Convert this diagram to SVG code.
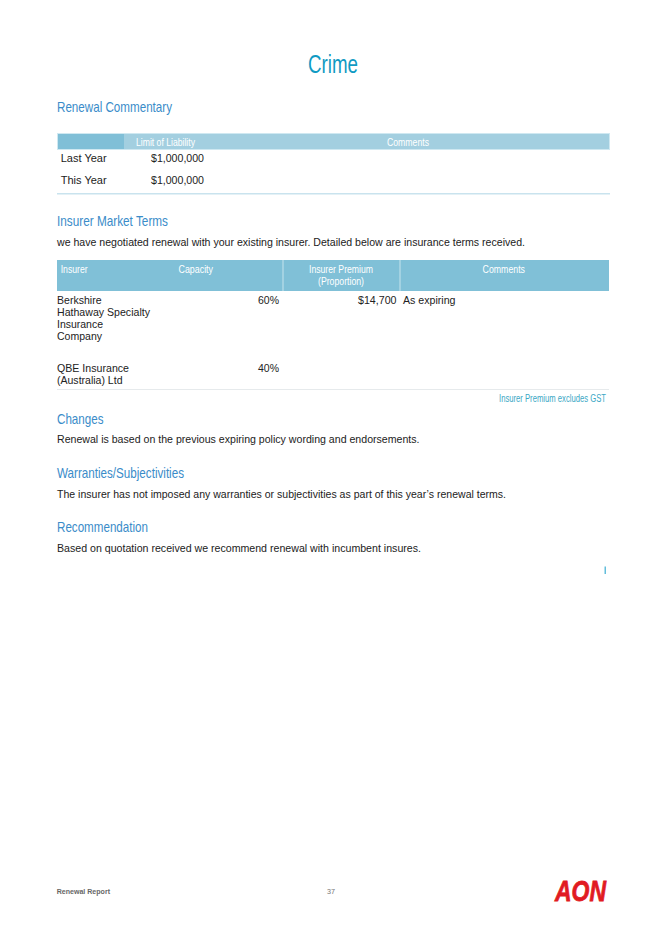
<svg xmlns="http://www.w3.org/2000/svg" width="645" height="934" viewBox="0 0 645 934">
<style>
text{font-family:"Liberation Sans",Arial,sans-serif}
.b{font-size:11.5px;fill:#222}
.h{font-size:14.5px;fill:#3a8cc9}
.w{font-size:11px;fill:#fff}
</style>
<rect width="645" height="934" fill="#fff"/>
<text id="title" x="308" y="73" font-size="25" fill="#109ac3" textLength="50" lengthAdjust="spacingAndGlyphs">Crime</text>
<g id="renewal-commentary">
<text class="h" x="57" y="111.500" textLength="115" lengthAdjust="spacingAndGlyphs">Renewal Commentary</text>
<rect x="57" y="133" width="553" height="17" fill="#cfe8f1"/>
<rect x="58" y="134" width="66" height="15" fill="#80bfd7"/>
<rect x="124" y="134" width="485" height="15" fill="#a3cfe0"/>
<text class="w" x="136" y="146" textLength="59" lengthAdjust="spacingAndGlyphs">Limit of Liability</text>
<text class="w" x="387" y="146" textLength="42" lengthAdjust="spacingAndGlyphs">Comments</text>
<text class="b" x="60.700" y="162.200" textLength="46" lengthAdjust="spacingAndGlyphs">Last Year</text>
<text class="b" x="151" y="162.200" textLength="53" lengthAdjust="spacingAndGlyphs">$1,000,000</text>
<text class="b" x="60.700" y="184.200" textLength="46" lengthAdjust="spacingAndGlyphs">This Year</text>
<text class="b" x="151" y="184.200" textLength="53" lengthAdjust="spacingAndGlyphs">$1,000,000</text>
<rect x="57" y="193" width="553" height="1.500" fill="#c9e3ee"/>
</g>
<g id="insurer-market-terms">
<text class="h" x="57" y="226" textLength="111" lengthAdjust="spacingAndGlyphs">Insurer Market Terms</text>
<text class="b" x="57" y="246.200" textLength="468" lengthAdjust="spacingAndGlyphs">we have negotiated renewal with your existing insurer. Detailed below are insurance terms received.</text>
<rect x="57" y="260" width="552" height="31" fill="#80c0d7"/>
<rect x="282.500" y="260" width="1" height="31" fill="#c5e3ee"/>
<rect x="399.500" y="260" width="1" height="31" fill="#c5e3ee"/>
<text class="w" x="60.700" y="272.700" textLength="27" lengthAdjust="spacingAndGlyphs">Insurer</text>
<text class="w" x="178.500" y="272.700" textLength="34.500" lengthAdjust="spacingAndGlyphs">Capacity</text>
<text class="w" x="309" y="272.700" textLength="64" lengthAdjust="spacingAndGlyphs">Insurer Premium</text>
<text class="w" x="318" y="285" textLength="46" lengthAdjust="spacingAndGlyphs">(Proportion)</text>
<text class="w" x="482.600" y="272.700" textLength="42.400" lengthAdjust="spacingAndGlyphs">Comments</text>
<text class="b" x="57" y="304.300" textLength="44.500" lengthAdjust="spacingAndGlyphs">Berkshire</text>
<text class="b" x="57" y="316.300" textLength="93" lengthAdjust="spacingAndGlyphs">Hathaway Specialty</text>
<text class="b" x="57" y="328.300" textLength="46" lengthAdjust="spacingAndGlyphs">Insurance</text>
<text class="b" x="57" y="340.300" textLength="45" lengthAdjust="spacingAndGlyphs">Company</text>
<text class="b" x="258" y="304.300" textLength="21" lengthAdjust="spacingAndGlyphs">60%</text>
<text class="b" x="358" y="304.300" textLength="38.500" lengthAdjust="spacingAndGlyphs">$14,700</text>
<text class="b" x="403" y="304.300" textLength="52.500" lengthAdjust="spacingAndGlyphs">As expiring</text>
<text class="b" x="57" y="371.700" textLength="72" lengthAdjust="spacingAndGlyphs">QBE Insurance</text>
<text class="b" x="57" y="383.700" textLength="65.500" lengthAdjust="spacingAndGlyphs">(Australia) Ltd</text>
<text class="b" x="258" y="371.700" textLength="21" lengthAdjust="spacingAndGlyphs">40%</text>
<rect x="57" y="389" width="552" height="1" fill="#e6eaec"/>
<text x="499" y="401.500" font-size="10" fill="#3ba7c5" textLength="107" lengthAdjust="spacingAndGlyphs">Insurer Premium excludes GST</text>
</g>
<g id="changes">
<text class="h" x="57" y="424" textLength="46.500" lengthAdjust="spacingAndGlyphs">Changes</text>
<text class="b" x="57" y="443.300" textLength="362.500" lengthAdjust="spacingAndGlyphs">Renewal is based on the previous expiring policy wording and endorsements.</text>
</g>
<g id="warranties">
<text class="h" x="57" y="477.700" textLength="127" lengthAdjust="spacingAndGlyphs">Warranties/Subjectivities</text>
<text class="b" x="57" y="497.700" textLength="449" lengthAdjust="spacingAndGlyphs">The insurer has not imposed any warranties or subjectivities as part of this year’s renewal terms.</text>
</g>
<g id="recommendation">
<text class="h" x="57" y="532" textLength="91" lengthAdjust="spacingAndGlyphs">Recommendation</text>
<text class="b" x="57" y="552" textLength="364" lengthAdjust="spacingAndGlyphs">Based on quotation received we recommend renewal with incumbent insures.</text>
</g>
<rect id="tick" x="604.500" y="566.500" width="1.500" height="7.500" fill="#63bedb"/>
<g id="footer">
<text x="56.700" y="893.500" font-size="7.500" font-weight="700" fill="#666" textLength="53.300" lengthAdjust="spacingAndGlyphs">Renewal Report</text>
<text x="327" y="893.500" font-size="7.500" fill="#777" textLength="8" lengthAdjust="spacingAndGlyphs">37</text>
<text id="logo" x="555" y="901" font-size="30" font-weight="700" font-style="italic" fill="#e11b22" stroke="#e11b22" stroke-width=".8" textLength="51" lengthAdjust="spacingAndGlyphs">AON</text>
</g>
</svg>
